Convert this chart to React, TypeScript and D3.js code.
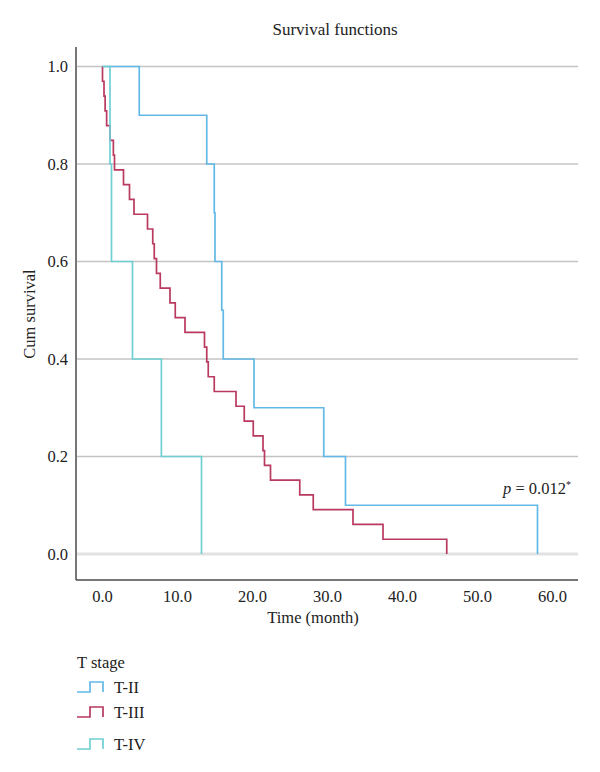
import React, { useRef, useEffect } from 'react';
import * as d3 from 'd3';

// event (death) times in months for each T stage group
const stageNames = ['T-II', 'T-III', 'T-IV'];
const stageColors = ['#62b9e8', '#b9395f', '#6fd0d4'];
const eventsT2 = [4.9, 13.9, 14.9, 15.0, 15.9, 16.1, 20.2, 29.5, 32.4, 58.0];
const eventsT3 = [
  0.0, 0.2, 0.35, 0.55, 1.0, 1.45, 1.6, 2.8, 3.6, 4.2, 6.0, 6.7, 6.9, 7.2, 7.7,
  9.0, 9.7, 11.0, 13.6, 13.9, 14.1, 14.9, 17.8, 18.9, 20.1, 21.4, 21.6, 22.4,
  26.3, 28.1, 33.4, 37.4, 45.9,
];
const eventsT4 = [1.0, 1.2, 4.0, 7.85, 13.2];
const xTicks = [0, 10, 20, 30, 40, 50, 60];
const yTicks = [0, 0.2, 0.4, 0.6, 0.8, 1.0];
const pValue = '0.012';

const FONT = '"Liberation Serif", "DejaVu Serif", serif';

function kmPoints(events) {
  const n = events.length;
  const pts = [[0, 1]];
  events.forEach((t, i) => pts.push([t, (n - i - 1) / n]));
  return pts;
}

function SurvivalChart() {
  const ref = useRef(null);

  useEffect(() => {
    const svg = d3.select(ref.current);
    svg.selectAll('*').remove();

    const x = d3.scaleLinear().domain([0, 60]).range([102.5, 552.5]);
    const y = d3.scaleLinear().domain([0, 1]).range([554, 66.5]);
    const left = 76, right = 578, top = 47, bottom = 580;

    svg.append('text')
      .attr('x', 335).attr('y', 35)
      .attr('text-anchor', 'middle')
      .style('font-family', FONT).style('font-size', '17px').attr('fill', '#222')
      .text('Survival functions');

    // gridlines
    svg.selectAll('line.grid')
      .data(yTicks)
      .enter().append('line')
      .attr('class', 'grid')
      .attr('x1', left + 1).attr('x2', right)
      .attr('y1', d => y(d)).attr('y2', d => y(d))
      .attr('stroke', d => d === 0 ? '#e2e2e2' : '#c4c4c4')
      .attr('stroke-width', d => d === 0 ? 3 : 1.5);

    // axes
    svg.append('line')
      .attr('x1', left).attr('x2', left).attr('y1', top).attr('y2', bottom)
      .attr('stroke', '#4a4a4a').attr('stroke-width', 1.5);
    svg.append('line')
      .attr('x1', left).attr('x2', right).attr('y1', bottom).attr('y2', bottom)
      .attr('stroke', '#4a4a4a').attr('stroke-width', 1.5);

    svg.selectAll('text.ytick')
      .data(yTicks)
      .enter().append('text')
      .attr('class', 'ytick')
      .attr('x', 68).attr('y', d => y(d) + 5.5)
      .attr('text-anchor', 'end')
      .style('font-family', FONT).style('font-size', '16.5px').attr('fill', '#222')
      .text(d => d.toFixed(1));

    svg.selectAll('text.xtick')
      .data(xTicks)
      .enter().append('text')
      .attr('class', 'xtick')
      .attr('x', d => x(d)).attr('y', 602)
      .attr('text-anchor', 'middle')
      .style('font-family', FONT).style('font-size', '16.5px').attr('fill', '#222')
      .text(d => d.toFixed(1));

    svg.append('text')
      .attr('x', 313).attr('y', 623)
      .attr('text-anchor', 'middle')
      .style('font-family', FONT).style('font-size', '16.5px').attr('fill', '#222')
      .text('Time (month)');

    svg.append('text')
      .attr('transform', 'translate(35, 314) rotate(-90)')
      .attr('text-anchor', 'middle')
      .style('font-family', FONT).style('font-size', '16.5px').attr('fill', '#222')
      .text('Cum survival');

    // Kaplan-Meier step curves
    const line = d3.line()
      .x(d => x(d[0]))
      .y(d => y(d[1]))
      .curve(d3.curveStepAfter);

    const groups = [eventsT2, eventsT3, eventsT4];
    groups.forEach((ev, i) => {
      svg.append('path')
        .attr('d', line(kmPoints(ev)))
        .attr('fill', 'none')
        .attr('stroke', stageColors[i])
        .attr('stroke-width', 1.7);
    });

    const p = svg.append('text')
      .attr('x', 571).attr('y', 494)
      .attr('text-anchor', 'end')
      .style('font-family', FONT).style('font-size', '16.5px').attr('fill', '#222');
    p.append('tspan').style('font-style', 'italic').text('p');
    p.append('tspan').text(` = ${pValue}`);
    p.append('tspan').attr('dy', -6).style('font-size', '10px').text('*');

    // legend
    svg.append('text')
      .attr('x', 77).attr('y', 668)
      .style('font-family', FONT).style('font-size', '16.5px').attr('fill', '#222')
      .text('T stage');

    const legendY = [687, 712, 744];
    const item = svg.selectAll('g.legend')
      .data(stageNames)
      .enter().append('g')
      .attr('class', 'legend')
      .attr('transform', (_, i) => `translate(77, ${legendY[i]})`);
    item.append('path')
      .attr('d', 'M0,5H13V-5H26V5')
      .attr('fill', 'none')
      .attr('stroke', (_, i) => stageColors[i])
      .attr('stroke-width', 1.7);
    item.append('text')
      .attr('x', 37).attr('y', 6)
      .style('font-family', FONT).style('font-size', '16.5px').attr('fill', '#222')
      .text(d => d);
  }, []);

  return (
    <svg ref={ref} width={600} height={772}
      style={{ position: 'absolute', left: 0, top: 0, background: '#fff' }} />
  );
}

export default function App() {
  return <SurvivalChart />;
}
